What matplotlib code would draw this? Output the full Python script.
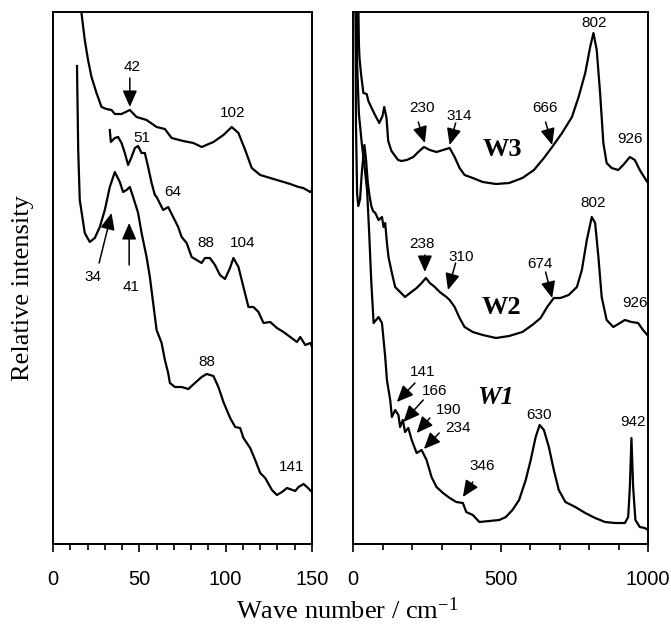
import matplotlib
matplotlib.use("Agg")
import matplotlib.pyplot as plt

SANS = "Liberation Sans"
SERIF = "Liberation Serif"
plt.rcParams["mathtext.fontset"] = "custom"
plt.rcParams["mathtext.rm"] = SERIF
plt.rcParams["mathtext.it"] = SERIF + ":italic"

# ---------------- data (relative intensity, arbitrary units) ----------------
# Left panel (0-150 cm-1)
lxA = [16.0, 16.5, 18.4, 20.3, 22.3, 25.2, 28.1, 31.0, 33.9, 35.8, 39.7, 44.5, 48.4, 54.2, 60.0,
       64.8, 68.7, 75.4, 81.3, 86.1, 92.9, 98.7, 103.5, 107.4, 111.3, 115.1, 120.0, 129.7,
       137.4, 142.2, 144.9, 149.0, 150.0]
lyA = [545, 531, 504, 484, 467, 451, 437, 435, 434, 430, 430, 434, 427, 424, 417,
       415, 406, 403, 401, 397, 402, 409, 417, 411, 394, 376, 369, 364,
       360, 357, 356, 352, 354]

lxB = [32.9, 33.5, 35.8, 37.7, 39.7, 41.6, 43.5, 45.5, 47.4, 49.3, 51.3, 53.2, 55.1, 57.1, 59.0,
       60.0, 63.8, 66.7, 69.6, 72.5, 74.5, 77.4, 80.3, 83.2, 86.1, 88.0, 90.9, 93.8, 96.7, 99.6,
       102.5, 104.5, 107.4, 110.3, 113.2, 116.1, 119.0, 121.9, 125.8, 129.7, 133.5, 137.4,
       141.3, 143.2, 146.1, 149.0, 150.0]
lyB = [414, 402, 406, 407, 401, 391, 379, 387, 396, 398, 391, 391, 377, 361, 349,
       347, 334, 337, 327, 317, 307, 301, 287, 284, 281, 286, 286, 279, 269, 265,
       276, 286, 277, 257, 237, 237, 232, 221, 222, 216, 212, 207,
       202, 207, 199, 201, 197]

lxC = [13.9, 14.6, 15.5, 18.4, 21.3, 24.2, 27.1, 30.0, 32.9, 35.8, 38.7, 40.6, 42.6, 44.5, 46.4,
       49.3, 51.3, 54.2, 56.1, 58.0, 60.0, 62.9, 64.8, 66.7, 67.7, 70.6, 74.5, 78.4, 82.2, 86.1,
       89.0, 92.9, 95.8, 98.7, 102.6, 105.5, 108.4, 110.3, 114.2, 117.1, 120.0, 122.9, 126.8,
       129.7, 132.6, 135.5, 140.3, 142.2, 145.1, 147.1, 150.0]
lyC = [478, 394, 344, 311, 302, 306, 317, 334, 357, 372, 362, 352, 354, 357, 347,
       331, 311, 287, 267, 241, 214, 201, 184, 171, 161, 157, 157, 155, 161, 167,
       170, 168, 157, 142, 126, 117, 116, 106, 96, 84, 71, 66, 54,
       49, 52, 56, 53, 57, 60, 57, 52]

# Right panel (0-1000 cm-1)
rx3 = [15, 18.5, 20, 22.0, 27.6, 35.3, 46.4, 52.1, 63.2, 74.6, 89.1, 100, 105.9, 113.6, 119.3,
       130.4, 152.9, 164.0, 182.2, 204.4, 221.2, 240.3, 260.5, 283.0, 305.2, 327.7, 344.5,
       361.3, 378.2, 406.1, 439.7, 484.7, 529.4, 574.1, 613.4, 647.1, 675.0, 708.6, 742.2,
       764.7, 787.2, 804.0, 815.1, 826.2, 837.6, 848.7, 859.8, 876.6, 899.2, 916.0, 938.5,
       955.3, 972.1, 988.9, 1000]
ry3 = [560, 532, 500, 486, 469, 451, 450, 443, 436, 429, 421, 428, 437, 426, 403,
       393, 384, 383, 384, 387, 392, 397, 394, 392, 394, 396, 387,
       376, 369, 366, 362, 360, 361, 366, 374, 386, 397, 411, 427,
       447, 471, 497, 511, 494, 451, 401, 381, 376, 374, 379, 387,
       384, 374, 366, 361]

rx2 = [8, 10, 14, 18, 24, 30, 38.7, 44, 50, 56, 62, 68, 75.6, 86.7, 98.2, 103.5, 109.2, 115.0,
       120.3, 131.8, 142.9, 159.7, 176.5, 193.3, 215.8, 232.6, 247.1, 260.5, 277.3, 294.1,
       316.6, 327.7, 344.5, 361.3, 378.2, 406.1, 439.7, 484.7, 529.4, 574.1, 607.7, 636.0,
       658.2, 680.7, 703.2, 731.1, 759.0, 775.8, 792.6, 809.4, 820.8, 831.9, 843.0, 859.8,
       882.4, 904.9, 921.7, 943.9, 966.4, 983.2, 997.6]
ry2 = [560, 420, 350, 338, 345, 372, 399, 385, 362, 348, 338, 333, 331, 324, 327, 317, 321, 301,
       287, 271, 257, 252, 247, 251, 256, 261, 266, 261, 257, 252,
       247, 244, 237, 226, 217, 212, 209, 206, 208, 212, 219, 226,
       237, 246, 246, 249, 257, 274, 304, 327, 321, 287, 247, 224,
       217, 221, 224, 222, 221, 214, 209]

rx1 = [12, 14, 20, 30, 40, 47.7, 55, 62, 69.9, 86.7, 98.2, 109.2, 115.0, 126.1, 131.8, 142.9,
       153.9, 159.7, 168.7, 176.5, 187.6, 199.0, 215.8, 232.6, 249.4, 266.2, 283.0, 305.2,
       327.7, 350.2, 372.4, 383.9, 406.1, 428.6, 462.2, 495.8, 518.3, 540.5, 563.0, 585.5,
       602.4, 619.2, 632.6, 647.1, 663.9, 680.7, 697.5, 720.0, 753.6, 787.2, 820.8, 854.5,
       888.1, 921.7, 932.8, 938.5, 943.9, 949.6, 957.3, 972.1, 988.9, 1000]
ry1 = [560, 480, 430, 400, 375, 354, 310, 262, 221, 227, 221, 187, 164, 144, 127, 134,
       129, 117, 124, 112, 116, 104, 91, 94, 84, 67, 57, 51,
       46, 42, 41, 32, 29, 22, 23, 24, 27, 34, 44, 64,
       84, 107, 119, 114, 97, 74, 54, 42, 37, 31, 26, 22,
       21, 21, 27, 57, 106, 57, 24, 17, 16, 14]

left_ticks = [0, 50, 100, 150]
right_ticks = [0, 500, 1000]

# ---------------- figure ----------------
W, H = 671, 627
fig = plt.figure(figsize=(W / 100, H / 100), dpi=100)

def px_axes(x0, y0, x1, y1):
    return fig.add_axes([x0 / W, 1 - y1 / H, (x1 - x0) / W, (y1 - y0) / H])

axL = px_axes(53, 12, 312, 544)
axR = px_axes(353, 12, 648, 544)

lw = 1.6
for x, y in [(lxA, lyA), (lxB, lyB), (lxC, lyC)]:
    axL.plot(x, y, color="black", lw=lw, solid_joinstyle="round")
for x, y in [(rx3, ry3), (rx2, ry2), (rx1, ry1)]:
    axR.plot(x, y, color="black", lw=lw, solid_joinstyle="round")

axL.set_xlim(0, 150)
axR.set_xlim(0, 1000)
axL.set_xticks(left_ticks)
axL.set_xticks(range(0, 151, 10), minor=True)
axR.set_xticks(right_ticks)
axR.set_xticks(range(0, 1001, 100), minor=True)
for ax in (axL, axR):
    ax.set_ylim(0, 532)
    ax.set_yticks([])
    for s in ax.spines.values():
        s.set_linewidth(1.4)
    ax.tick_params(axis="x", which="major", direction="out", length=6, width=1.2,
                   pad=13, labelsize=14.5)
    ax.tick_params(axis="x", which="minor", direction="out", length=4, width=1.2)
    for lab in ax.get_xticklabels():
        lab.set_fontfamily(SANS)

FS = 11
AP = dict(arrowstyle="-|>,head_length=0.5,head_width=0.22", lw=1.1, color="black",
          shrinkA=0, shrinkB=0, mutation_scale=20)

def label(ax, x, y, s):
    ax.text(x, y, s, ha="center", va="center", fontsize=FS, family=SANS, clip_on=False)

def arrow(ax, xt, yt, xh, yh):
    ax.annotate("", xy=(xh, yh), xytext=(xt, yt), arrowprops=AP, annotation_clip=False)

# left annotations
label(axL, 46.1, 477, "42"); arrow(axL, 44.5, 466, 44.5, 437)
label(axL, 104.1, 431, "102")
label(axL, 51.3, 406, "51")
label(axL, 69.6, 352, "64")
label(axL, 88.6, 301, "88")
label(axL, 109.9, 301, "104")
label(axL, 23.2, 267, "34"); arrow(axL, 26.7, 281, 33.9, 331)
label(axL, 45.5, 257, "41"); arrow(axL, 44.1, 279, 44.1, 321)
label(axL, 89.0, 182, "88")
label(axL, 138.4, 77, "141")

# right annotations
label(axR, 818.6, 521, "802")
label(axR, 232.6, 436, "230"); arrow(axR, 221.2, 422, 243.7, 401)
label(axR, 359.3, 428, "314"); arrow(axR, 347.9, 421, 327.7, 399)
label(axR, 650.4, 436, "666"); arrow(axR, 652.9, 422, 675.0, 399)
label(axR, 938.5, 405, "926")
label(axR, 815.0, 341, "802")
label(axR, 232.6, 300, "238"); arrow(axR, 243.7, 289, 243.7, 272)
label(axR, 367.0, 287, "310"); arrow(axR, 347.9, 281, 322.0, 254)
label(axR, 632.6, 280, "674"); arrow(axR, 652.9, 272, 675.0, 246)
label(axR, 955.0, 241, "926")
label(axR, 236.0, 172, "141"); arrow(axR, 210.0, 161, 148.6, 142)
label(axR, 277.3, 153, "166"); arrow(axR, 238.0, 144, 170.8, 122)
label(axR, 325.4, 134, "190"); arrow(axR, 260.5, 126, 215.8, 111)
label(axR, 356.0, 116, "234"); arrow(axR, 292.1, 111, 240.3, 95)
label(axR, 630.3, 129, "630")
label(axR, 949.6, 122, "942")
label(axR, 437.6, 78, "346"); arrow(axR, 406.1, 62, 372.4, 47)

axR.text(504.9, 395, "W3", ha="center", va="center", fontsize=19, family=SERIF, weight="bold")
axR.text(501.5, 237, "W2", ha="center", va="center", fontsize=19, family=SERIF, weight="bold")
axR.text(484.7, 146, "W1", ha="center", va="center", fontsize=19, family=SERIF, weight="bold",
         style="italic")

fig.text(23 / W, 1 - 288 / H, "Relative intensity", rotation=90, ha="center", va="center",
         fontsize=19, family=SERIF)
fig.text(347 / W, 1 - 619 / H, "Wave number / cm$^{\\mathregular{-1}}$", ha="center",
         va="baseline", fontsize=19, family=SERIF)

fig.savefig("out.png", dpi=100)
